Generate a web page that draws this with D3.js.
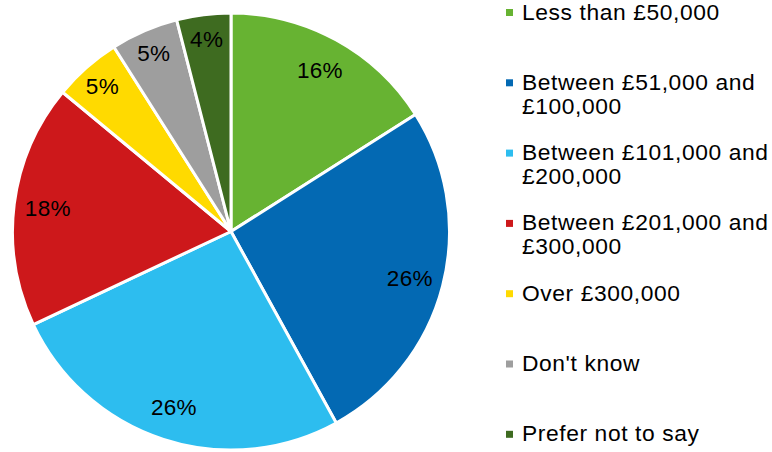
<!DOCTYPE html>
<html>
<head>
<meta charset="utf-8">
<script src="https://cdn.jsdelivr.net/npm/d3@7"></script>
<style>
  html, body { margin: 0; padding: 0; background: #ffffff; }
  svg { display: block; }
  text { font-family: "Liberation Sans", Arial, sans-serif; fill: #000; }
</style>
</head>
<body>
<svg id="chart" width="772" height="452"></svg>
<script>
// Household income bands and share of respondents (%)
const categories = [
  "Less than £50,000",
  "Between £51,000 and £100,000",
  "Between £101,000 and £200,000",
  "Between £201,000 and £300,000",
  "Over £300,000",
  "Don't know",
  "Prefer not to say"
];
const legendLines = [
  ["Less than £50,000"],
  ["Between £51,000 and", "£100,000"],
  ["Between £101,000 and", "£200,000"],
  ["Between £201,000 and", "£300,000"],
  ["Over £300,000"],
  ["Don't know"],
  ["Prefer not to say"]
];
const shares = [16, 26, 26, 18, 5, 5, 4];
const colors = ["#67b332", "#0369b3", "#2dbdef", "#cd181b", "#ffda00", "#9e9e9e", "#3e6b20"];

const svg = d3.select("#chart");
const cx = 231, cy = 231.5, R = 218.5;

const data = categories.map((c, i) => ({ category: c, value: shares[i], color: colors[i], lines: legendLines[i] }));

const pie = d3.pie().sort(null).value(d => d.value);
const arcs = pie(data);
const arc = d3.arc().innerRadius(0).outerRadius(R);

const g = svg.append("g").attr("transform", `translate(${cx},${cy})`);

g.selectAll("path.slice")
  .data(arcs)
  .join("path")
  .attr("class", "slice")
  .attr("d", arc)
  .attr("fill", d => d.data.color)
  .attr("stroke", "#ffffff")
  .attr("stroke-width", 3)
  .attr("stroke-linejoin", "round");

// Percentage labels: small slices sit a little further out
const labelArcBig = d3.arc().innerRadius(R * 0.845).outerRadius(R * 0.845);
const labelArcSmall = d3.arc().innerRadius(R * 0.89).outerRadius(R * 0.89);

g.selectAll("text.pct")
  .data(arcs)
  .join("text")
  .attr("class", "pct")
  .attr("transform", d => {
    const c = (d.data.value < 10 ? labelArcSmall : labelArcBig).centroid(d);
    return `translate(${c[0]},${c[1]})`;
  })
  .attr("text-anchor", "middle")
  .attr("dy", "0.36em")
  .style("font-size", "22.5px")
  .style("letter-spacing", "0.3px")
  .text(d => d3.format(".0f")(d.data.value) + "%");

// Legend
const legendX = 506, legendTop = 19.5, itemGap = 70.3, lineGap = 24;
const legend = svg.append("g");
const items = legend.selectAll("g.item")
  .data(data)
  .join("g")
  .attr("class", "item")
  .attr("transform", (d, i) => `translate(${legendX},${legendTop + i * itemGap})`);

items.append("rect")
  .attr("x", 0)
  .attr("y", -10.5)
  .attr("width", 7)
  .attr("height", 7)
  .attr("fill", d => d.color);

items.each(function(d) {
  const t = d3.select(this).append("text")
    .attr("x", 16)
    .attr("y", 0)
    .style("font-size", "22.8px")
    .style("letter-spacing", "0.6px");
  d.lines.forEach((line, k) => {
    t.append("tspan").attr("x", 16).attr("y", k * lineGap).text(line);
  });
});
</script>
</body>
</html>
